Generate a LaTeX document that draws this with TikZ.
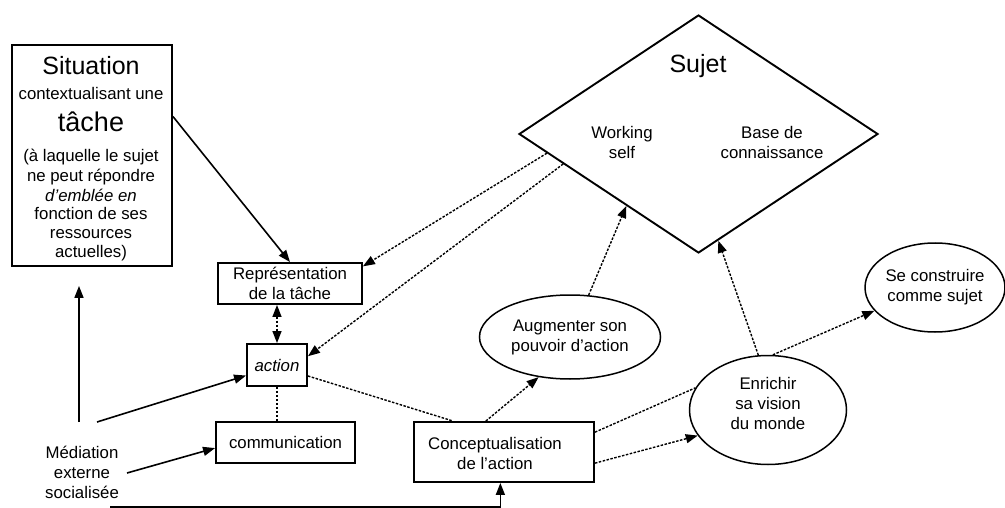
\documentclass[tikz,border=0pt]{standalone}
\usepackage{fontspec}
\setmainfont{Liberation Sans}
\usetikzlibrary{arrows.meta,shapes.geometric,calc}

\begin{document}
\begin{tikzpicture}[x=1pt,y=-1pt,
  txt/.style={font=\fontsize{16.8}{20}\selectfont, inner sep=0pt, align=center},
  bigtxt/.style={font=\fontsize{25}{30}\selectfont, inner sep=0pt, anchor=base},
  linetxt/.style={txt, anchor=base},
  box/.style={draw, line width=1.9pt, txt},
  oval/.style={draw, ellipse, line width=1.5pt, txt},
  tip/.style={-{Triangle[length=12pt,width=9pt]}},
  solidarrow/.style={line width=1.6pt, tip},
  dotline/.style={line width=1.4pt, dash pattern=on 2.5pt off 1.5pt},
  dotarrow/.style={dotline, tip},
  dotboth/.style={dotline, {Triangle[length=12pt,width=9pt]}-{Triangle[length=12pt,width=9pt]}},
]
\useasboundingbox (0,0) rectangle (1005,508);

% situation box and its lines of text
\node[box, minimum width=160, minimum height=221] (sit) at (92,155.5) {};
\node[bigtxt] (sit-1) at (91,75) {Situation};
\node[linetxt] (sit-2) at (91,100) {contextualisant une};
\node[bigtxt, font=\fontsize{27}{30}\selectfont] (sit-3) at (91,132) {tâche};
\node[linetxt] (sit-4) at (91,162) {(à laquelle le sujet};
\node[linetxt] (sit-5) at (91,181.5) {ne peut répondre};
\node[linetxt] (sit-6) at (91,201) {\itshape d'emblée en};
\node[linetxt] (sit-7) at (91,220) {fonction de ses};
\node[linetxt] (sit-8) at (91,239) {ressources};
\node[linetxt] (sit-9) at (91,257.5) {actuelles)};

% boxes
\node[box, minimum width=144, minimum height=41] (rep) at (290,283.5) {Représentation\\de la tâche};
\node[box, minimum width=60, minimum height=42] (act) at (277,365) {\itshape action};
\node[box, minimum width=139, minimum height=41] (com) at (285.5,442.5) {communication};
\node[box, minimum width=180, minimum height=60] (con) at (504,452) {};
\node[txt] (con-t) at (495,453) {Conceptualisation\\de l'action};
\node[txt] (med) at (82,472) {Médiation\\externe\\socialisée};

% subject diamond
\node[draw, diamond, line width=1.9pt, minimum width=359, minimum height=238, inner sep=0pt] (suj) at (698.5,134) {};
\node[bigtxt] (suj-t) at (698,73) {Sujet};
\node[txt] (ws) at (622,142) {Working\\self};
\node[txt] (bc) at (772,142) {Base de\\connaissance};

% outcomes
\node[oval, minimum width=181, minimum height=84] (aug) at (570,337) {Augmenter son\\pouvoir d'action};
\node[oval, minimum width=157, minimum height=109] (enr) at (768,410) {};
\node[txt] (enr-t) at (768,403) {Enrichir\\sa vision\\du monde};
\node[oval, minimum width=136, minimum height=89] (se) at (935,287.5) {Se construire\\comme sujet};

% free ends of the mediation arrows
\coordinate (m1) at (79,422);
\coordinate (m2) at (97,422);
\coordinate (m3) at (127,473);
\coordinate (m4) at (110,507);

% solid connectors
\draw[solidarrow] ($(sit.north east)!0.325!(sit.south east)$) -- (rep.north);
\draw[solidarrow, shorten >=19pt] (m1) -- (m1 |- sit.south);
\draw[solidarrow] (m2) -- ($(act.south west)!0.26!(act.north west)$);
\draw[solidarrow] (m3) -- ($(com.north west)!0.63!(com.south west)$);
\draw[solidarrow] (m4) -| ($(con.south west)!0.48!(con.south east)$);

% dotted connectors
\draw[dotarrow] ($(suj.west)!0.16!(suj.south)$) -- ($(rep.north east)!0.1!(rep.south east)$);
\draw[dotarrow] ($(suj.west)!0.25!(suj.south)$) -- ($(act.north east)!0.3!(act.south east)$);
\draw[dotboth] (act.north |- rep.south) -- (act.north);
\draw[dotline] (act.south) -- (act.south |- com.north);
\draw[dotline] ($(act.east)!0.5!(act.south east)$) -- ($(con.north west)!0.22!(con.north east)$);
\draw[dotarrow] ($(con.north west)!0.4!(con.north east)$) -- (aug.232);
\draw[dotarrow] (aug.66) -- ($(suj.west)!0.6!(suj.south)$);
\draw[dotline] ($(con.north east)!0.18!(con.south east)$) -- (enr.163);
\draw[dotarrow] ($(con.north east)!0.68!(con.south east)$) -- (enr.200);
\draw[dotarrow] (enr.100) -- ($(suj.south)!0.11!(suj.east)$);
\draw[dotarrow] (enr.85) -- (se.201);
\end{tikzpicture}
\end{document}
